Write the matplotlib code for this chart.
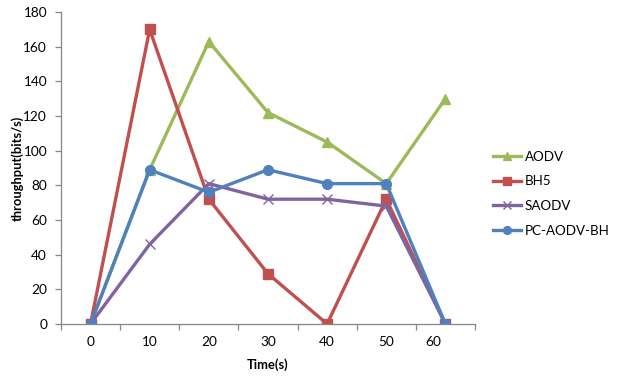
from matplotlib import pyplot as plt
import matplotlib.transforms as mtransforms
import numpy as np

#################################
# Data
time_labels = ['0', '10', '20', '30', '40', '50', '60']
aodv = [0, 89, 163, 122, 105, 81, 130]
bh5 = [0, 170, 72, 29, 0, 72, 0]
saodv = [0, 46, 81, 72, 72, 68, 0]
pc_aodv_bh = [0, 89, 76, 89, 81, 81, 0]
#################################

plt.rcParams['font.family'] = ['Lato', 'DejaVu Sans']

# font sizes
tk_fs = 9.8
lb_fs = 9.3
lg_fs = 9.6

x = np.arange(len(time_labels))
axis_col = '#868686'

fig = plt.figure(figsize=[6.35, 3.78], dpi=100)
ax = fig.add_axes([0.096, 0.143, 0.652, 0.825])

ax.plot(x, aodv, color='#9BBB59', lw=2.4, marker='^', ms=7, label='AODV')
ax.plot(x, bh5, color='#C0504D', lw=2.4, marker='s', ms=6.5, label='BH5')
ax.plot(x, saodv, color='#8064A2', lw=2.4, marker='x', ms=7, mew=1.0, label='SAODV')
ax.plot(x, pc_aodv_bh, color='#4F81BD', lw=2.4, marker='o', ms=7, label='PC-AODV-BH')

ax.set_xlim(-0.5, len(x) - 0.5)
ax.set_ylim(0, 180)
ax.set_yticks(np.arange(0, 181, 20))
ax.set_xticks(x)
ax.set_xticklabels(time_labels)
ax.set_xticks(np.arange(-0.5, len(x), 1), minor=True)

for s in ['top', 'right']:
    ax.spines[s].set_visible(False)
for s in ['left', 'bottom']:
    ax.spines[s].set_color(axis_col)
    ax.spines[s].set_linewidth(0.9)

ax.tick_params(axis='x', which='major', length=0, labelsize=tk_fs, pad=9)
ax.tick_params(axis='x', which='minor', length=4, color=axis_col, width=0.9)
ax.tick_params(axis='y', which='major', length=4, color=axis_col, width=0.9,
               labelsize=tk_fs, pad=6)

# the last label sits a little left of its point in the original
last = ax.get_xticklabels()[-1]
last.set_transform(last.get_transform() +
                   mtransforms.ScaledTranslation(-0.12, 0, fig.dpi_scale_trans))

ax.set_xlabel('Time(s)', fontsize=lb_fs, fontweight='bold', labelpad=7)
ax.set_ylabel('throughput(bits/s)', fontsize=lb_fs, fontweight='bold', labelpad=0)

fig.legend(loc='center left', bbox_to_anchor=(0.777, 0.488), frameon=False,
           fontsize=lg_fs, handlelength=2.1, handletextpad=0.25,
           labelspacing=0.95, borderpad=0, borderaxespad=0, markerscale=0.8)

plt.savefig('out.png', dpi=100)
